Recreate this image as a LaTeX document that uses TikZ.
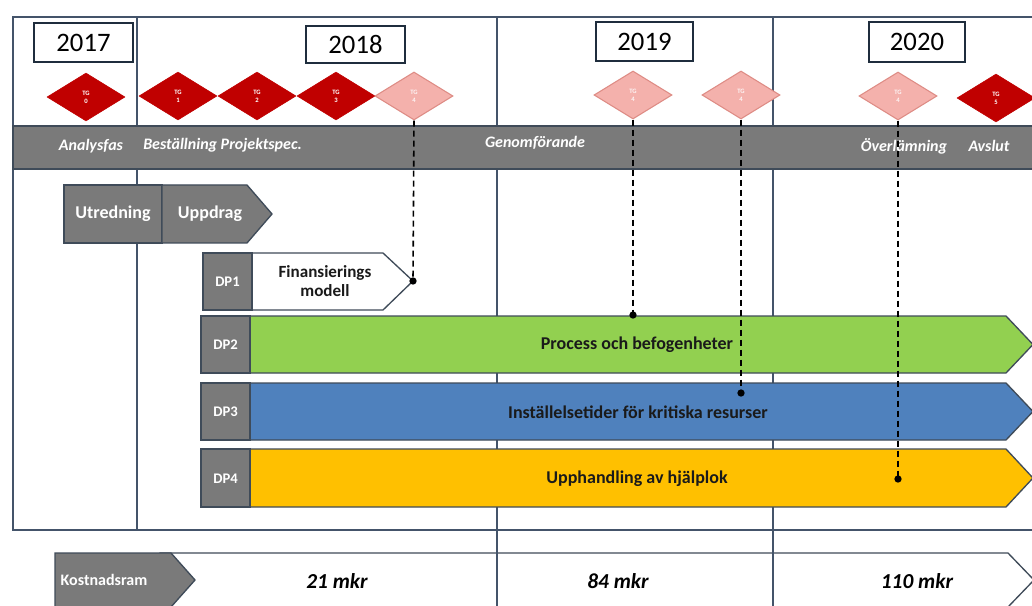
\documentclass[tikz,border=0pt]{standalone}
\usepackage{fontspec}
\setmainfont{Carlito}
\usetikzlibrary{shapes.geometric}
\definecolor{frameC}{HTML}{44546A}
\definecolor{boxC}{HTML}{1F2D3D}
\definecolor{grayF}{HTML}{7A7A7A}
\definecolor{edgeC}{HTML}{3F4B59}
\definecolor{darkRed}{HTML}{C00000}
\definecolor{lightRed}{HTML}{F4B1AC}
\definecolor{lightRedE}{HTML}{DE8C85}
\definecolor{greenF}{HTML}{92D050}
\definecolor{blueF}{HTML}{4F81BD}
\definecolor{yellowF}{HTML}{FFC000}
\definecolor{txtC}{HTML}{1A1A1A}
\tikzset{
  yearbox/.style={draw=boxC,line width=1.8pt,fill=white,inner sep=0pt,font=\fontsize{20}{22}\selectfont,text=black},
  tgbase/.style={diamond,minimum width=58.5pt,minimum height=36pt,inner sep=0pt,align=center,
    font=\fontsize{5}{6}\selectfont\bfseries},
  tgdark/.style={tgbase,fill=darkRed,draw=darkRed,text=white},
  tglight/.style={tgbase,fill=lightRed,draw=lightRedE,line width=0.8pt,text=white!85!lightRed},
  phasetxt/.style={font=\fontsize{12}{13}\selectfont\bfseries\itshape,text=white,inner sep=0pt},
  grayshape/.style={fill=grayF,draw=edgeC,line width=1pt},
  whitetxt/.style={font=\fontsize{13.5}{15}\selectfont\bfseries,text=white,inner sep=0pt},
  dptxt/.style={font=\fontsize{11}{13}\selectfont\bfseries,text=white,inner sep=0pt},
  bartxt/.style={font=\fontsize{13.5}{15}\selectfont\bfseries,text=txtC,inner sep=0pt,align=center},
  costtxt/.style={font=\fontsize{16}{18}\selectfont\bfseries\itshape,text=black,inner sep=0pt},
  tgline/.style={draw=black,line width=1.2pt,dash pattern=on 4.5pt off 3pt},
  dotn/.style={circle,fill=black,inner sep=0pt,minimum size=5.5pt},
  frameline/.style={draw=frameC,line width=1.1pt},
}
\begin{document}
\begin{tikzpicture}[x=0.75pt,y=-0.75pt]
\useasboundingbox (0,0) rectangle (1032,606);
\fill[white] (0,0) rectangle (1032,606);
\clip (0,0) rectangle (1032,606);

% bottom cost bar
\draw[fill=white,draw=edgeC,line width=1pt] (160,553) -- (1008,553) -- (1034,580) -- (1008,607) -- (160,607) -- cycle;

% frame and year dividers
\draw[frameline] (1040,17) -- (13,17) -- (13,530) -- (1040,530);
\draw[frameline] (137,17) -- (137,530);
\draw[frameline] (497,17) -- (497,610);
\draw[frameline] (773,17) -- (773,610);

% year boxes
\node[yearbox,minimum width=74.25pt,minimum height=29.25pt] (y2017) at (83.5,42.5) {2017};
\node[yearbox,minimum width=74.25pt,minimum height=27.75pt] (y2018) at (355.5,44.5) {2018};
\node[yearbox,minimum width=72.75pt,minimum height=29.25pt] (y2019) at (644.5,41.5) {2019};
\node[yearbox,minimum width=72pt,minimum height=30pt] (y2020) at (917,42) {2020};

% toll gates
\node[tgdark] (tg0) at (86,97) {TG\\0};
\node[tgdark] (tg1) at (178,96) {TG\\1};
\node[tgdark] (tg2) at (257,96) {TG\\2};
\node[tgdark] (tg3) at (336,96) {TG\\3};
\node[tglight] (tg4a) at (414,96) {TG\\4};
\node[tglight] (tg4b) at (633,95) {TG\\4};
\node[tglight] (tg4c) at (741,95) {TG\\4};
\node[tglight] (tg4d) at (898,96) {TG\\4};
\node[tgdark] (tg5) at (996,98) {TG\\5};

% phase bar
\draw[fill=grayF,draw=edgeC,line width=1.2pt] (13,126) rectangle (1040,169);
\node[phasetxt] (ph1) at (91,146) {Analysfas};
\node[phasetxt,anchor=west] (ph2) at (143,145) {Beställning Projektspec.};
\node[phasetxt] (ph3) at (535,143) {Genomförande};
\node[phasetxt] (ph4) at (904,146) {Överlämning};
\node[phasetxt] (ph5) at (989,146) {Avslut};

% Utredning / Uppdrag
\draw[grayshape] (64,185) rectangle (162,243);
\draw[grayshape] (162,185) -- (247,185) -- (272,214) -- (247,243) -- (162,243) -- cycle;
\node[whitetxt] (utr) at (113,214) {Utredning};
\node[whitetxt] (upp) at (210,214) {Uppdrag};

% DP1
\draw[fill=white,draw=edgeC,line width=1pt] (252,253) -- (383,253) -- (413,281) -- (383,310) -- (252,310) -- cycle;
\draw[grayshape] (203,253) rectangle (252,310);
\node[dptxt] (dp1) at (227.5,282) {DP1};
\node[bartxt,font=\fontsize{12.8}{14.5}\selectfont\bfseries] (fin) at (325,281) {Finansierings\\modell};

% DP2
\draw[fill=greenF,draw=edgeC,line width=1pt] (250,316) -- (1006,316) -- (1033,344.5) -- (1006,373) -- (250,373) -- cycle;
\draw[grayshape] (201,316) rectangle (250,373);
\node[dptxt] (dp2) at (225.5,345) {DP2};
\node[bartxt] (p2) at (637,345) {Process och befogenheter};

% DP3
\draw[fill=blueF,draw=edgeC,line width=1pt] (250,383) -- (1006,383) -- (1033,411.5) -- (1006,440) -- (250,440) -- cycle;
\draw[grayshape] (201,383) rectangle (250,440);
\node[dptxt] (dp3) at (225.5,412) {DP3};
\node[bartxt] (p3) at (638,412) {Inställelsetider för kritiska resurser};

% DP4
\draw[fill=yellowF,draw=edgeC,line width=1pt] (250,449) -- (1006,449) -- (1033,478) -- (1006,507) -- (250,507) -- cycle;
\draw[grayshape] (201,449) rectangle (250,507);
\node[dptxt] (dp4) at (225.5,479) {DP4};
\node[bartxt] (p4) at (637,479) {Upphandling av hjälplok};

% Kostnadsram
\draw[grayshape] (55,553) -- (171,553) -- (195,580) -- (171,607) -- (55,607) -- cycle;
\node[whitetxt,font=\fontsize{12}{13}\selectfont\bfseries] (kost) at (104,580) {Kostnadsram};
\node[costtxt] (c1) at (337,581) {21 mkr};
\node[costtxt] (c2) at (618,581) {84 mkr};
\node[costtxt] (c3) at (917,581) {110 mkr};

% toll gate links
\node[dotn] (d1) at (413,281) {};
\node[dotn] (d2) at (633,315) {};
\node[dotn] (d3) at (741,393) {};
\node[dotn] (d4) at (898,479) {};
\draw[tgline] (tg4a.south) -- (d1.center);
\draw[tgline] (tg4b.south) -- (d2.center);
\draw[tgline] (tg4c.south) -- (d3.center);
\draw[tgline] (tg4d.south) -- (d4.center);
\end{tikzpicture}
\end{document}
